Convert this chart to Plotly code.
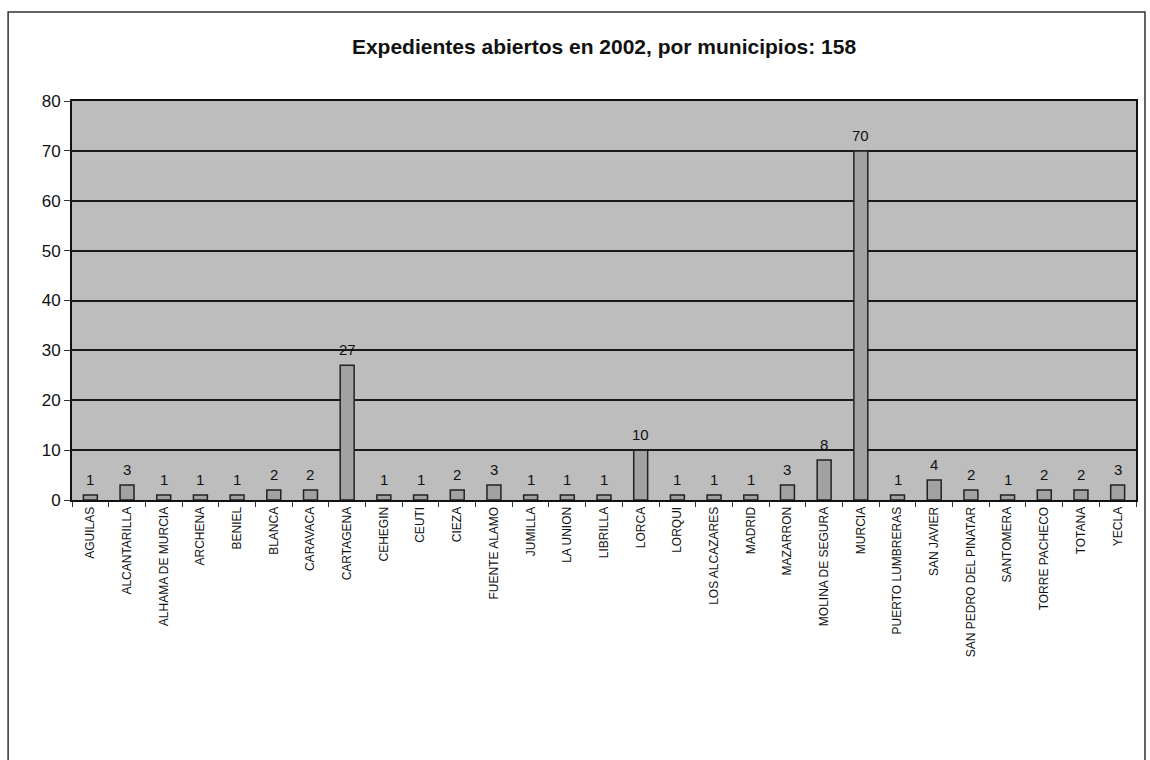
import plotly.graph_objects as go

municipios = [
    "AGUILAS", "ALCANTARILLA", "ALHAMA DE MURCIA", "ARCHENA", "BENIEL", "BLANCA",
    "CARAVACA", "CARTAGENA", "CEHEGIN", "CEUTI", "CIEZA", "FUENTE ALAMO", "JUMILLA",
    "LA UNION", "LIBRILLA", "LORCA", "LORQUI", "LOS ALCAZARES", "MADRID", "MAZARRON",
    "MOLINA DE SEGURA", "MURCIA", "PUERTO LUMBRERAS", "SAN JAVIER",
    "SAN PEDRO DEL PINATAR", "SANTOMERA", "TORRE PACHECO", "TOTANA", "YECLA",
]
expedientes = [1, 3, 1, 1, 1, 2, 2, 27, 1, 1, 2, 3, 1, 1, 1, 10, 1, 1, 1, 3, 8, 70, 1, 4, 2, 1, 2, 2, 3]
y_ticks = [0, 10, 20, 30, 40, 50, 60, 70, 80]

W, H = 1150, 760
ml, mr, mt, mb = 72, 12, 101, 260
pw, ph = W - ml - mr, H - mt - mb

fig = go.Figure(
    go.Bar(
        x=municipios,
        y=expedientes,
        cliponaxis=False,
        marker=dict(color="#a2a2a2", line=dict(color="#222", width=1.5)),
        width=0.38,
    )
)

# value labels above each bar
for name, val in zip(municipios, expedientes):
    fig.add_annotation(
        x=name, y=val, text=str(val), showarrow=False,
        yanchor="bottom", yshift=5,
        font=dict(family="Liberation Sans, Arial", size=15, color="#111"),
    )

# outer frame around the whole chart
fig.add_shape(
    type="rect", xref="paper", yref="paper",
    x0=(8 - ml) / pw, x1=(1147 - ml) / pw,
    y0=-(H - mt - ph + 20) / ph - 0.1, y1=1 + (mt - 12) / ph,
    line=dict(color="#333", width=1.5), fillcolor="rgba(0,0,0,0)", layer="below",
)

fig.update_layout(
    width=W, height=H,
    margin=dict(l=ml, r=mr, t=mt, b=mb),
    paper_bgcolor="white",
    plot_bgcolor="#bdbdbd",
    showlegend=False,
    bargap=0.6,
    title=dict(
        text="<b>Expedientes abiertos en 2002, por municipios: 158</b>",
        x=0.5, xref="paper", y=1 - 47 / H, yanchor="middle",
        font=dict(family="Liberation Sans, Arial", size=21, color="#111"),
    ),
    font=dict(family="Liberation Sans, Arial", color="#111"),
)

fig.update_xaxes(
    tickangle=-90,
    tickfont=dict(size=12, family="Liberation Sans, Arial", color="#111"),
    showline=True, linecolor="#111", linewidth=2, mirror=True,
    ticks="outside", ticklen=5, tickcolor="#333",
    tickson="boundaries",
    showgrid=False,
)
fig.update_yaxes(
    range=[0, 80],
    tickvals=y_ticks,
    tickfont=dict(size=17, family="Liberation Sans, Arial", color="#111"),
    showline=True, linecolor="#111", linewidth=2, mirror=True,
    showgrid=True, gridcolor="#1a1a1a", gridwidth=1.5,
    ticks="outside", ticklen=6, tickcolor="#333",
    zeroline=False,
)

fig.write_html("out.html")
